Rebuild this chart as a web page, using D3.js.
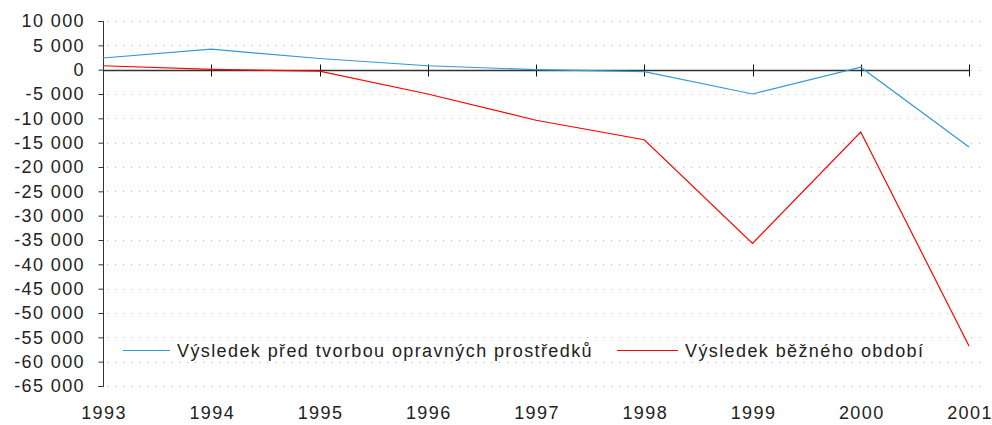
<!DOCTYPE html>
<html>
<head>
<meta charset="utf-8">
<script src="https://cdn.jsdelivr.net/npm/d3@7"></script>
<style>
  body { margin: 0; background: #fff; }
  text { font-family: "Liberation Sans", Arial, sans-serif; fill: #222; font-size: 18px; letter-spacing: 1.4px; }
</style>
</head>
<body>
<div class="main-container"></div>
<script>
const years = [1993, 1994, 1995, 1996, 1997, 1998, 1999, 2000, 2001];
const vysledekPred = [2400, 4200, 2300, 800, 0, -400, -5000, 500, -15900];
const vysledekBezny = [800, 50, -300, -5000, -10400, -14400, -35700, -12800, -56800];
const yTicks = d3.range(10000, -65001, -5000);
const seriesNames = ["Výsledek před tvorbou opravných prostředků", "Výsledek běžného období"];
const seriesColors = ["#3399d6", "#ff0000"];

let margin = {top: 21, right: 23, bottom: 39, left: 103},
  width = 992 - margin.left - margin.right,
  height = 425 - margin.top - margin.bottom;

const svg = d3.select(".main-container")
  .append("svg")
  .attr("width", 992)
  .attr("height", 425)
  .append("g")
  .attr("transform", "translate(" + margin.left + "," + margin.top + ")");

const fmt = d3.formatLocale({decimal: ",", thousands: " ", grouping: [3], currency: ["", ""], minus: "-"}).format(",d");

let x = d3.scaleLinear()
  .domain([1993, 2001])
  .range([0, width]);

let y = d3.scaleLinear()
  .domain([-65000, 10000])
  .range([height, 0]);

// dotted grid
svg.append("g")
  .selectAll("line")
  .data(yTicks)
  .join("line")
  .attr("x1", 4)
  .attr("x2", width + 16)
  .attr("y1", d => Math.round(y(d)) + 0.5)
  .attr("y2", d => Math.round(y(d)) + 0.5)
  .attr("stroke", "#bbb")
  .attr("stroke-dasharray", "1,7");

// y axis
const yAxis = svg.append("g")
  .attr("transform", "translate(0.5,0)")
  .call(d3.axisLeft(y).tickValues(yTicks).tickFormat(fmt).tickSize(5).tickPadding(13.5));
yAxis.select(".domain").attr("stroke", "#333").attr("d", "M-5," + (Math.round(y(10000)) + 0.5) + "H0V" + (Math.round(y(-65000)) + 0.5) + "H-5");
yAxis.selectAll(".tick line").attr("stroke", "#333");
yAxis.selectAll("text").attr("font-size", null).attr("font-family", null).attr("fill", "#222");

// x axis line at zero with crossing ticks
const zeroY = Math.round(y(0)) + 0.5;
const xAxis = svg.append("g").attr("transform", "translate(0," + zeroY + ")");
xAxis.append("line")
  .attr("x1", 0).attr("x2", x(2001))
  .attr("stroke", "#333").attr("stroke-width", 1.5);
xAxis.selectAll(".xt")
  .data(years.slice(1))
  .join("line")
  .attr("x1", d => Math.round(x(d)) + 0.5)
  .attr("x2", d => Math.round(x(d)) + 0.5)
  .attr("y1", -6).attr("y2", 6)
  .attr("stroke", "#111");

// x labels at bottom
svg.append("g")
  .selectAll("text")
  .data(years)
  .join("text")
  .attr("x", d => x(d) + 1)
  .attr("y", height + 33)
  .attr("text-anchor", "middle")
  .text(d => d);

// lines
const line = d3.line()
  .x((d, i) => x(years[i]))
  .y(d => y(d));

[vysledekPred, vysledekBezny].forEach((s, k) => {
  svg.append("path")
    .datum(s)
    .attr("fill", "none")
    .attr("stroke", seriesColors[k])
    .attr("stroke-width", 1.2)
    .attr("d", line);
});

// legend
const legend = svg.append("g").attr("transform", "translate(0," + (Math.round(y(-57500)) + 0.5) + ")");
const legendX = [[20, 67, 74], [514, 575, 582]];
seriesNames.forEach((name, k) => {
  legend.append("line")
    .attr("x1", legendX[k][0]).attr("x2", legendX[k][1])
    .attr("stroke", seriesColors[k]).attr("stroke-width", 1.2);
  legend.append("text")
    .attr("x", legendX[k][2])
    .attr("dy", "0.35em")
    .text(name);
});
</script>
</body>
</html>
